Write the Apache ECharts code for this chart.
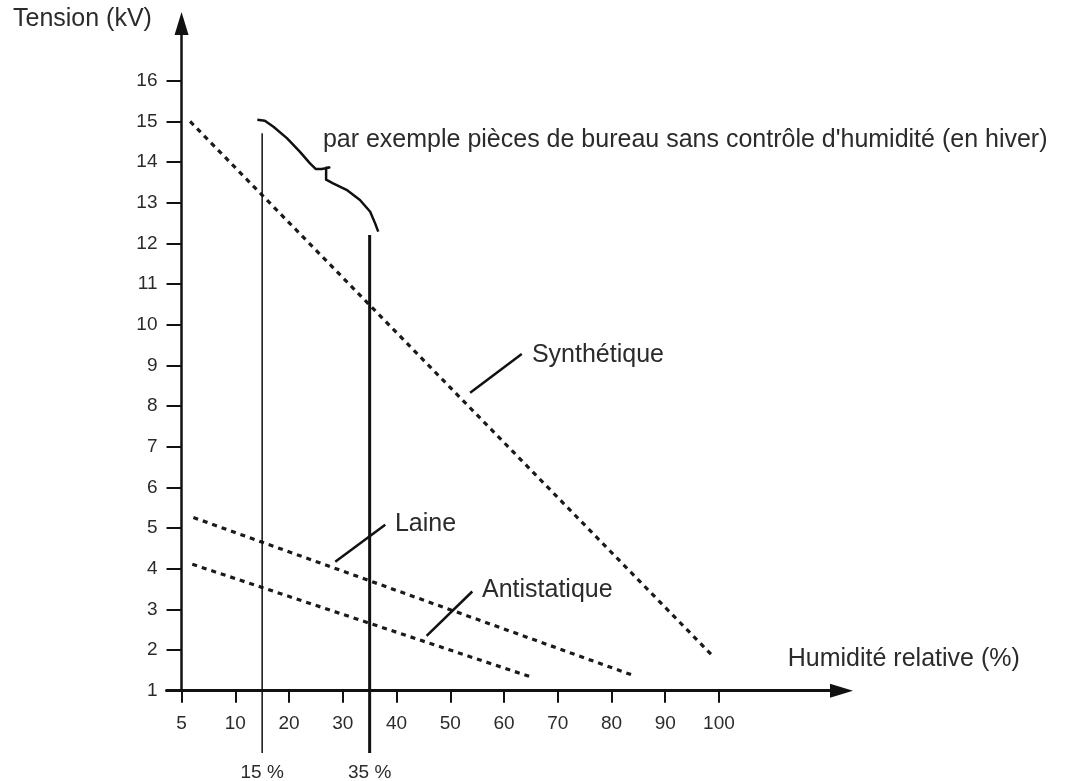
<!DOCTYPE html>
<html>
<head>
<meta charset="utf-8">
<script src="https://cdn.jsdelivr.net/npm/echarts@6/dist/echarts.min.js"></script>
<style>
  html, body { margin: 0; padding: 0; background: #fff; }
  #chart { width: 1068px; height: 781px; }
</style>
</head>
<body>
<div id="chart"></div>
<script>
// Humidity axis: 5 and 10 share the first step, then one step per 10 %
const xTickLabels = ['5', '10', '20', '30', '40', '50', '60', '70', '80', '90', '100'];
const yTickValues = [1, 2, 3, 4, 5, 6, 7, 8, 9, 10, 11, 12, 13, 14, 15, 16];

// Static voltage (kV) against relative humidity (%)
const synthHum = [5.8, 98.5];
const synthKv = [15.0, 1.9];
const laineHum = [6.1, 84.4];
const laineKv = [5.26, 1.36];
const antiHum = [6.0, 65.2];
const antiKv = [4.11, 1.33];

// Office rooms without humidity control (winter)
const officeHum = [14.1, 15.5, 17.1, 19.6, 22.0, 23.9, 25.0, 26.1, 27.5, 26.9, 26.9, 28.2, 30.7, 33.2, 35.1, 36.0, 36.6];
const officeKv = [15.04, 15.02, 14.87, 14.59, 14.26, 13.97, 13.83, 13.83, 13.87, 13.86, 13.57, 13.48, 13.32, 13.07, 12.78, 12.50, 12.29];

// 15 % and 35 % reference lines
const markerHum = [15, 35];
const markerLabels = ['15 %', '35 %'];
const markerTopKv = [14.71, 12.21];
const markerBottomKv = -0.53;

// Leader strokes from each caption to its curve
const synthLeaderHum = [53.7, 63.3];
const synthLeaderKv = [8.33, 9.28];
const laineLeaderHum = [28.6, 37.9];
const laineLeaderKv = [4.17, 5.08];
const antiLeaderHum = [45.6, 54.1];
const antiLeaderKv = [2.35, 3.44];

function humToPos(h) {
  return h <= 10 ? (h - 5) / 5 : h / 10;
}
function pairs(hs, vs) {
  return hs.map((h, i) => [humToPos(h), vs[i]]);
}

const FONT = '"Liberation Sans", Arial, Helvetica, sans-serif';
const INK = '#111';
const TEXT = '#2b2b2b';

const dashed = { color: '#1a1a1a', width: 3.2, type: [5, 5], cap: 'butt' };

function lineSeries(data, lineStyle, clip) {
  return {
    type: 'line',
    data: data,
    symbol: 'none',
    silent: true,
    clip: clip !== false,
    lineStyle: lineStyle,
    animation: false
  };
}

const chart = echarts.init(document.getElementById('chart'));

const option = {
  animation: false,
  backgroundColor: '#fff',
  grid: { left: 166.5, top: 23.5, width: 675, height: 667.2, containLabel: false },
  xAxis: {
    type: 'value',
    min: -0.28,
    max: 12.28,
    splitLine: { show: false },
    axisLine: {
      show: true,
      lineStyle: { color: INK, width: 3 },
      symbol: ['none', 'triangle'],
      symbolSize: [14, 23]
    },
    axisTick: {
      show: true,
      length: 12,
      lineStyle: { color: INK, width: 2 },
      customValues: xTickLabels.map((_, i) => i)
    },
    axisLabel: {
      customValues: xTickLabels.map((_, i) => i),
      formatter: v => xTickLabels[Math.round(v)],
      color: TEXT,
      fontFamily: FONT,
      fontSize: 19,
      margin: 24
    }
  },
  yAxis: {
    type: 'value',
    min: 1,
    max: 17.41,
    splitLine: { show: false },
    axisLine: {
      show: true,
      onZero: true,
      lineStyle: { color: INK, width: 2.5 },
      symbol: ['none', 'triangle'],
      symbolSize: [14, 23]
    },
    axisTick: {
      show: true,
      length: 15,
      lineStyle: { color: INK, width: 2 },
      customValues: yTickValues
    },
    axisLabel: {
      customValues: yTickValues,
      color: TEXT,
      fontFamily: FONT,
      fontSize: 19,
      margin: 9
    }
  },
  series: [
    lineSeries(pairs(synthHum, synthKv), dashed),
    lineSeries(pairs(laineHum, laineKv), dashed),
    lineSeries(pairs(antiHum, antiKv), dashed),
    lineSeries(pairs(officeHum, officeKv), { color: INK, width: 2.5, join: 'round' }),
    lineSeries(pairs([markerHum[0], markerHum[0]], [markerTopKv[0], markerBottomKv]), { color: INK, width: 1.5 }, false),
    lineSeries(pairs([markerHum[1], markerHum[1]], [markerTopKv[1], markerBottomKv]), { color: INK, width: 3 }, false),
    lineSeries(pairs(synthLeaderHum, synthLeaderKv), { color: INK, width: 2.5 }),
    lineSeries(pairs(laineLeaderHum, laineLeaderKv), { color: INK, width: 2.5 }),
    lineSeries(pairs(antiLeaderHum, antiLeaderKv), { color: INK, width: 2.5 })
  ]
};

chart.setOption(option);

// Captions anchored in data space
function px(h, v) {
  return chart.convertToPixel({ gridIndex: 0 }, [humToPos(h), v]);
}
function caption(text, h, v, size, align) {
  const p = px(h, v);
  return {
    type: 'text',
    x: p[0],
    y: p[1],
    silent: true,
    style: {
      text: text,
      fill: TEXT,
      font: size + 'px ' + FONT,
      align: align || 'left',
      verticalAlign: 'middle',
      textAlign: align || 'left',
      textVerticalAlign: 'middle'
    }
  };
}

const graphics = [
  {
    type: 'text', x: 13, y: 19, silent: true,
    style: { text: 'Tension (kV)', fill: TEXT, font: '25px ' + FONT, align: 'left', verticalAlign: 'middle', textAlign: 'left', textVerticalAlign: 'middle' }
  },
  caption('par exemple pièces de bureau sans contrôle d\'humidité (en hiver)', 26.3, 14.55, 25),
  caption('Synthétique', 65.2, 9.26, 25),
  caption('Laine', 39.7, 5.10, 25),
  caption('Antistatique', 55.9, 3.48, 25),
  caption('Humidité relative (%)', 112.8, 1.78, 25),
  caption(markerLabels[0], markerHum[0], -1.03, 19, 'center'),
  caption(markerLabels[1], markerHum[1], -1.03, 19, 'center')
];

chart.setOption({ graphic: { elements: graphics } });
</script>
</body>
</html>
